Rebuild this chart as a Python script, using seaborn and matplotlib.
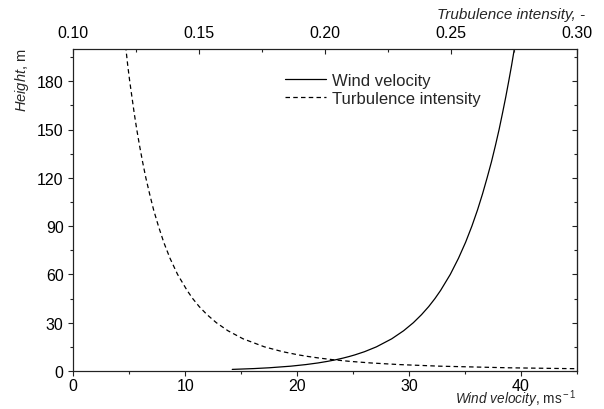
import matplotlib
matplotlib.use("Agg")
import matplotlib.pyplot as plt
import pandas as pd
import seaborn as sns
from matplotlib.ticker import MultipleLocator, FormatStrFormatter
from matplotlib.lines import Line2D

# Wind velocity profile (m/s) against height (m)
wind_height = [1, 1.5, 2, 3, 4, 5, 6, 7, 8, 9, 10, 12, 15, 20, 25, 30, 35,
               40, 45, 50, 60, 70, 80, 90, 100, 110, 120, 130, 140, 150,
               160, 170, 180, 190, 200, 210]
wind_velocity = [14.20, 16.13, 17.50, 19.43, 20.79, 21.86, 22.72, 23.46,
                 24.09, 24.65, 25.15, 26.02, 27.08, 28.45, 29.51, 30.38,
                 31.11, 31.75, 32.31, 32.81, 33.68, 34.41, 35.05, 35.61,
                 36.11, 36.56, 36.97, 37.36, 37.71, 38.04, 38.34, 38.63,
                 38.90, 39.16, 39.40, 39.64]

# Turbulence intensity (-) against height (m)
turb_height = [1.4, 1.5, 2, 3, 4, 5, 6, 7, 8, 9, 10, 12, 15, 20, 25, 30, 35,
               40, 45, 50, 60, 70, 80, 90, 100, 110, 120, 130, 140, 150,
               160, 170, 180, 190, 200, 210]
turb_intensity = [0.302, 0.2958, 0.2726, 0.2454, 0.2293, 0.2181, 0.2097,
                  0.2032, 0.1978, 0.1933, 0.1894, 0.1831, 0.1759, 0.1674,
                  0.1614, 0.1568, 0.1531, 0.1500, 0.1474, 0.1452, 0.1414,
                  0.1384, 0.1359, 0.1338, 0.1319, 0.1303, 0.1288, 0.1275,
                  0.1263, 0.1252, 0.1242, 0.1233, 0.1224, 0.1216, 0.1209,
                  0.1201]

series_labels = ["Wind velocity", "Turbulence intensity"]

sns.set_style("ticks")
plt.rcParams["font.family"] = ["Liberation Sans", "DejaVu Sans"]
plt.rcParams["mathtext.fontset"] = "custom"
plt.rcParams["mathtext.rm"] = "Liberation Sans"
plt.rcParams["mathtext.it"] = "Liberation Sans:italic"
plt.rcParams["axes.linewidth"] = 0.8
plt.rcParams["axes.edgecolor"] = "#222222"

W, H = 604, 410
fig = plt.figure(figsize=(W / 100, H / 100), dpi=100)
left, right, top, bottom = 73.3, 577, 50, 372
ax = fig.add_axes([left / W, 1 - bottom / H, (right - left) / W, (bottom - top) / H])

wind_df = pd.DataFrame({"height": wind_height, "velocity": wind_velocity})
turb_df = pd.DataFrame({"height": turb_height, "intensity": turb_intensity})

sns.lineplot(data=wind_df, x="velocity", y="height", sort=False, ax=ax,
             color="black", lw=0.9, legend=False)
ax.set_xlim(0, 45)
ax.set_ylim(0, 200)
ax.set_xlabel("")
ax.set_ylabel("")
ax.xaxis.set_major_locator(MultipleLocator(10))
ax.xaxis.set_minor_locator(MultipleLocator(5))
ax.yaxis.set_major_locator(MultipleLocator(30))
ax.yaxis.set_minor_locator(MultipleLocator(15))
ax.tick_params(which="major", direction="out", length=3.5, width=0.8,
               labelsize=11.5, colors="#222222", labelcolor="black")
ax.tick_params(which="minor", direction="out", length=2.5, width=0.8,
               colors="#222222")
ax.tick_params(axis="x", which="major", pad=1.2)
ax.tick_params(axis="y", which="major", pad=3.5)

ax2 = ax.twiny()
sns.lineplot(data=turb_df, x="intensity", y="height", sort=False, ax=ax2,
             color="black", lw=0.9, legend=False)
ax2.lines[0].set_dashes([3.6, 2.6])
ax2.set_xlim(0.10, 0.30)
ax2.set_ylim(0, 200)
ax2.set_xlabel("")
ax2.set_ylabel("")
ax2.xaxis.set_major_locator(MultipleLocator(0.05))
ax2.xaxis.set_minor_locator(MultipleLocator(0.025))
ax2.xaxis.set_major_formatter(FormatStrFormatter("%.2f"))
ax2.tick_params(axis="x", which="major", direction="in", length=3.5, width=0.8,
                labelsize=11.5, colors="#222222", labelcolor="black", pad=6.5)
ax2.tick_params(axis="x", which="minor", direction="in", length=2.5, width=0.8,
                colors="#222222")

# mirrored inward ticks on the right-hand spine
sec = ax.secondary_yaxis("right")
sec.yaxis.set_major_locator(MultipleLocator(30))
sec.yaxis.set_minor_locator(MultipleLocator(15))
sec.tick_params(which="major", direction="in", length=3.5, width=0.8,
                labelright=False, colors="#222222")
sec.tick_params(which="minor", direction="in", length=2.5, width=0.8,
                colors="#222222")
sec.spines["right"].set_linewidth(0.8)

for a in (ax, ax2):
    for s in a.spines.values():
        s.set_linewidth(0.8)

handles = [Line2D([], [], color="black", lw=0.9),
           Line2D([], [], color="black", lw=0.9, dashes=[3.6, 2.6])]
leg = ax2.legend(handles, series_labels, loc="upper left",
                 bbox_to_anchor=(285 / W, 1 - 74 / H),
                 bbox_transform=fig.transFigure, frameon=False, fontsize=12,
                 handlelength=2.45, handletextpad=0.4, borderpad=0,
                 borderaxespad=0, labelspacing=0.2)

fig.text(22 / W, 1 - 48 / H, r"$\it{Height}$, m", rotation=90, va="top",
         ha="center", fontsize=10.5)
fig.text(585 / W, 1 - 15 / H, "Trubulence intensity, -", style="italic",
         va="center", ha="right", fontsize=11)
fig.text(577 / W, 0.1 / H, r"$\it{Wind\ velocity}$, ms$^{\rm -1}$",
         va="bottom", ha="right", fontsize=9.8)

fig.savefig("out.png", dpi=100)
